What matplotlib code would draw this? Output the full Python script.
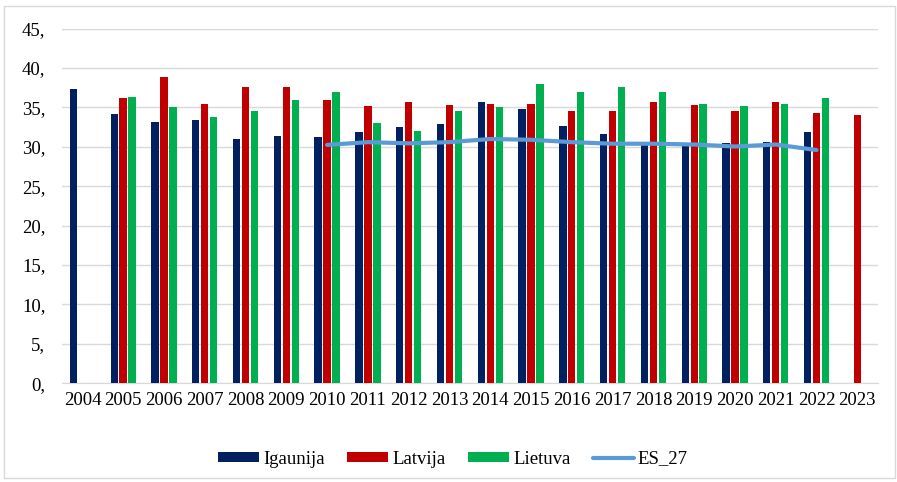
import numpy as np
import matplotlib
matplotlib.use("Agg")
import matplotlib.pyplot as plt
from matplotlib.patches import Rectangle

years = [str(y) for y in range(2004, 2024)]
igaunija = [37.4, 34.2, 33.1, 33.45, 30.95, 31.4, 31.3, 31.9, 32.5, 32.9,
            35.65, 34.85, 32.7, 31.6, 30.5, 30.3, 30.5, 30.6, 31.95, None]
latvija = [None, 36.25, 38.9, 35.45, 37.55, 37.55, 35.95, 35.15, 35.7, 35.3,
           35.5, 35.45, 34.55, 34.55, 35.65, 35.3, 34.55, 35.75, 34.35, 34.05]
lietuva = [None, 36.3, 35.0, 33.8, 34.55, 35.95, 37.0, 33.0, 32.05, 34.6,
           35.0, 37.95, 37.0, 37.6, 37.0, 35.45, 35.15, 35.45, 36.25, None]
es_27 = [None, None, None, None, None, None, 30.25, 30.6, 30.45, 30.6,
         31.0, 30.9, 30.6, 30.4, 30.4, 30.3, 30.05, 30.3, 29.6, None]

plt.rcParams['font.family'] = ['Liberation Serif', 'DejaVu Serif']
fs = 13.5

fig = plt.figure(figsize=(8.97, 4.82), dpi=100)
ax = fig.add_axes([0.0691, 0.2048, 0.9094, 0.7357])

x = np.arange(len(years))
w = 0.18
step = 0.22


def clean(vals):
    return [np.nan if v is None else v for v in vals]


b1 = ax.bar(x - step, clean(igaunija), w, color='#002060', label='Igaunija', zorder=2)
b2 = ax.bar(x, clean(latvija), w, color='#C00000', label='Latvija', zorder=2)
b3 = ax.bar(x + step, clean(lietuva), w, color='#00B050', label='Lietuva', zorder=2)
l1, = ax.plot(x, clean(es_27), color='#5B9BD5', lw=3, solid_capstyle='round',
              label='ES_27', zorder=3)

ax.set_xlim(-0.5, len(years) - 0.5)
ax.set_ylim(0, 45)
ax.set_yticks(range(0, 50, 5))
ax.set_yticklabels([f"{v}," for v in range(0, 50, 5)], fontsize=fs)
ax.set_xticks(x)
ax.set_xticklabels(years, fontsize=fs)
ax.tick_params(axis='both', length=0)
ax.tick_params(axis='y', pad=12)
ax.tick_params(axis='x', pad=6)
ax.grid(axis='y', color='#D9D9D9', lw=1, zorder=0)
for s in ['top', 'right', 'left']:
    ax.spines[s].set_visible(False)
ax.spines['bottom'].set_color('#D9D9D9')
ax.spines['bottom'].set_zorder(1)

fig.legend([b1, b2, b3, l1], ['Igaunija', 'Latvija', 'Lietuva', 'ES_27'],
           loc='center', bbox_to_anchor=(0.505, 0.0477), ncol=4, frameon=False,
           fontsize=fs, handlelength=2.2, handleheight=0.47, handletextpad=0.2,
           columnspacing=1.2)

fig.patches.append(Rectangle((4 / 897, 4 / 482), 891 / 897, 472 / 482,
                             transform=fig.transFigure, fill=False,
                             edgecolor='#D9D9D9', lw=1))

fig.savefig('out.png', dpi=100)
